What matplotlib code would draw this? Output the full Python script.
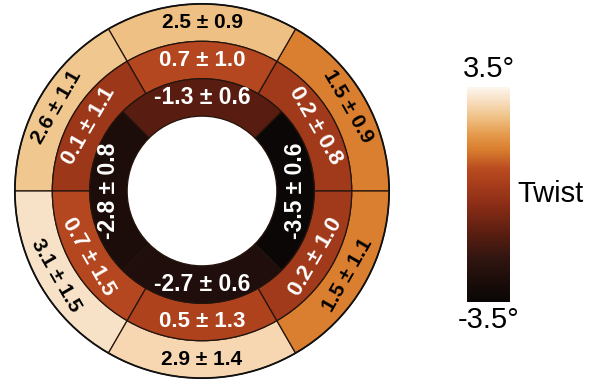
import numpy as np
import matplotlib
matplotlib.use("Agg")
from matplotlib import pyplot as plt
from matplotlib.patches import Wedge, Circle
from matplotlib.colors import LinearSegmentedColormap, Normalize
from matplotlib.cm import ScalarMappable

# twist per segment (deg), counter-clockwise from 3 o'clock
outer_vals = [1.5, 2.5, 2.6, 3.1, 2.9, 1.5]
outer_sd = [0.9, 0.9, 1.1, 1.5, 1.4, 1.1]
mid_vals = [0.2, 0.7, 0.1, 0.7, 0.5, 0.2]
mid_sd = [0.8, 1.0, 1.1, 1.5, 1.3, 1.0]
# inner ring: right, top, left, bottom
inner_vals = [-3.5, -1.3, -2.8, -2.7]
inner_sd = [0.6, 0.6, 0.8, 0.6]

vmin, vmax = -3.5, 3.5
cbar_label = "Twist"

FONT = ["Liberation Sans", "DejaVu Sans"]

cmap = LinearSegmentedColormap.from_list("twist", [
    (0.00, "#0a0706"), (0.10, "#1c0d0a"), (0.20, "#301510"),
    (0.31, "#571d10"), (0.45, "#8a2c16"), (0.55, "#a73d1b"),
    (0.62, "#b94b20"), (0.71, "#d97e2e"), (0.78, "#e59a4c"),
    (0.86, "#efc185"), (0.93, "#f7dcbc"), (1.00, "#fdf6ee"),
])
norm = Normalize(vmin, vmax)

W, H = 598, 381
fig = plt.figure(figsize=(W / 100, H / 100), dpi=100)

# bullseye axes, placed in pixels
cx, cy, R = 202, 191, 189
ax = fig.add_axes([(cx - R) / W, (H - cy - R) / H, 2 * R / W, 2 * R / H])
ax.set_xlim(-1.01, 1.01)
ax.set_ylim(-1.01, 1.01)
ax.set_aspect("equal")
ax.axis("off")

edge = "#24140c"


def ring(vals, sds, r_in, r_out, start, txtcolor, size):
    n = len(vals)
    step = 360 / n
    for i, (v, s) in enumerate(zip(vals, sds)):
        t1 = start + i * step
        t2 = t1 + step
        ax.add_patch(Wedge((0, 0), r_out, t1, t2, width=r_out - r_in,
                           facecolor=cmap(norm(v)), edgecolor=edge, lw=0.9))
        mid = (t1 + t2) / 2 % 360
        rm = (r_in + r_out) / 2
        x = rm * np.cos(np.radians(mid))
        y = rm * np.sin(np.radians(mid))
        if 0 < mid <= 180:
            rot = mid - 90
        else:
            rot = mid + 90
        ax.text(x, y, f"{v:.1f} \u00b1 {s:.1f}", rotation=rot,
                rotation_mode="anchor", ha="center", va="center",
                color=txtcolor, fontsize=size, fontweight="bold", family=FONT)


ring(outer_vals, outer_sd, 0.8, 1.0, 0, "black", 15)
ring(mid_vals, mid_sd, 0.6, 0.8, 0, "white", 16)
ring(inner_vals, inner_sd, 0.4, 0.6, -45, "white", 16.5)
ax.add_patch(Circle((0, 0), 1.0, fill=False, edgecolor="#111111", lw=1.3))

# colour bar
bx, by, bw, bh = 467, 87, 43, 215
cax = fig.add_axes([bx / W, (H - by - bh) / H, bw / W, bh / H])
cb = fig.colorbar(ScalarMappable(norm=norm, cmap=cmap), cax=cax)
cb.set_ticks([])
cb.outline.set_visible(False)
fig.text((bx + bw / 2) / W, (H - by + 4) / H, f"{vmax:.1f}\u00b0",
         ha="center", va="bottom", fontsize=21, family=FONT)
fig.text((bx + bw / 2) / W, (H - by - bh - 4) / H, f"{vmin:.1f}\u00b0",
         ha="center", va="top", fontsize=21, family=FONT)
fig.text((bx + bw + 7) / W, (H - by - bh / 2) / H, cbar_label,
         ha="left", va="center", fontsize=21, family=FONT)

fig.savefig("out.png", dpi=100, facecolor="white")
